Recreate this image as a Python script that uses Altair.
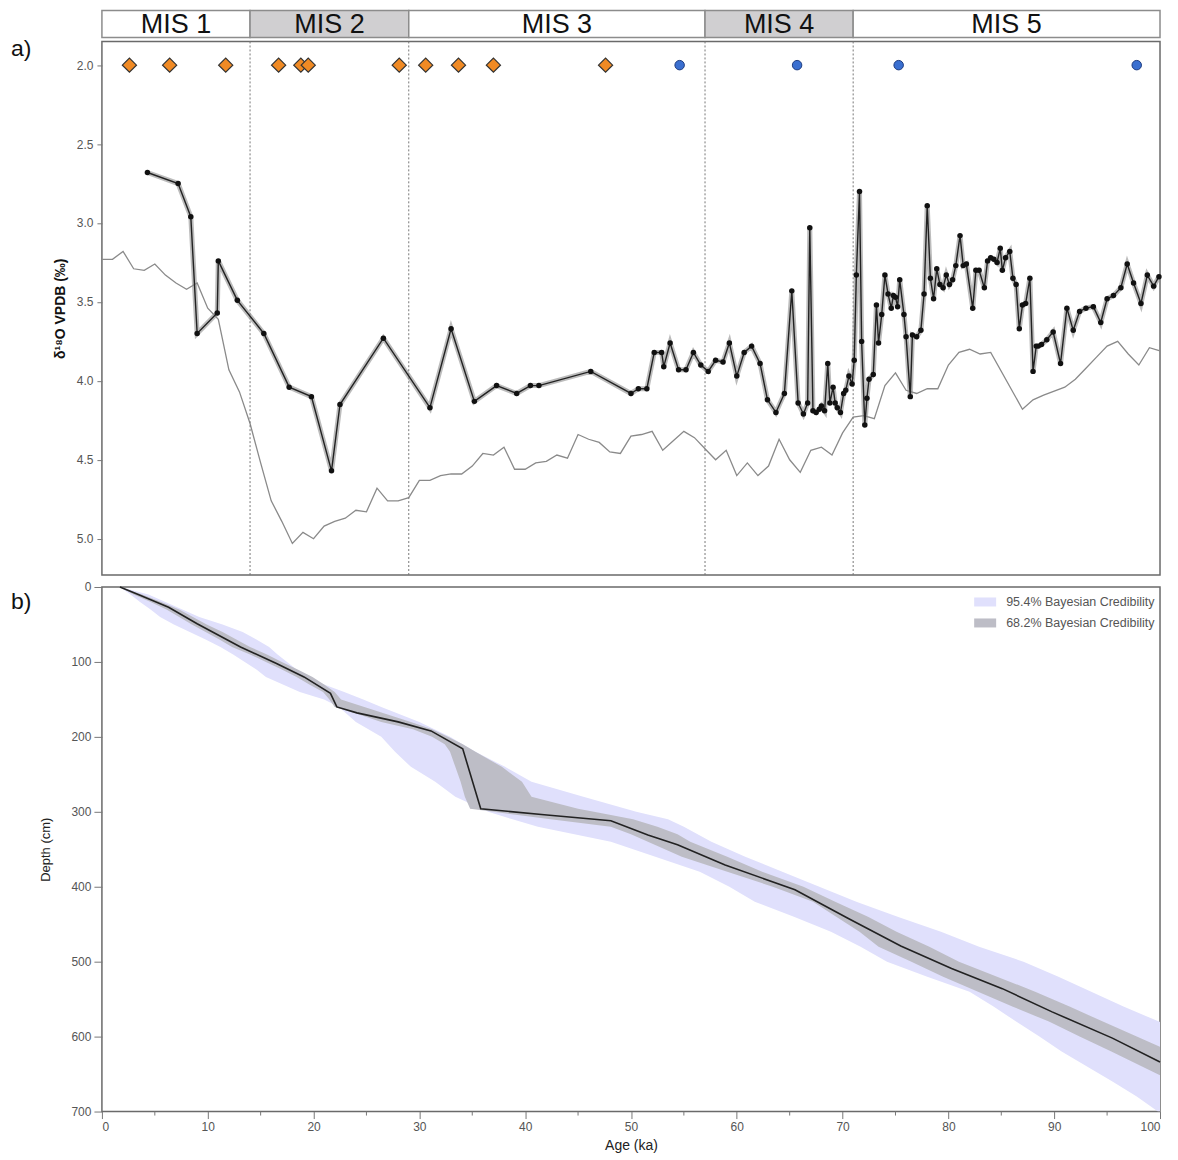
import altair as alt
import pandas as pd

# ---------------- data ----------------
mis_names = ["MIS 1", "MIS 2", "MIS 3", "MIS 4", "MIS 5"]
mis_start = [0, 14, 29, 57, 71]
mis_end = [14, 29, 57, 71, 100]
mis_fill = ["#ffffff", "#d0cfd1", "#ffffff", "#d0cfd1", "#ffffff"]
mis_bounds = [14, 29, 57, 71]

diamond_ages = [2.6, 6.4, 11.7, 16.7, 18.8, 19.5, 28.1, 30.6, 33.7, 37.0, 47.6]
circle_ages = [54.6, 65.7, 75.3, 97.8]
marker_level = 2.0

iso_age = [4.3, 7.2, 8.4, 9.0, 10.9, 11.0, 12.8, 15.3, 17.7, 19.8, 21.7, 22.5, 26.6, 31.0, 33.0, 35.2, 37.3, 39.2, 40.5, 41.3, 46.2, 50.0, 50.7, 51.5,
           52.2, 52.9, 53.1, 53.7, 54.5, 55.2, 55.9, 56.6, 57.3, 58.0, 58.7, 59.3, 60.0, 60.7, 61.4, 62.2, 62.9, 63.7, 64.5, 65.2, 65.8,
           66.3, 66.7, 66.9, 67.2, 67.5, 67.8, 68.0, 68.3, 68.6, 68.8, 69.1, 69.3, 69.5, 69.8, 70.1, 70.3, 70.6, 70.9, 71.1, 71.3, 71.6, 71.8, 72.1, 72.3, 72.5, 72.9,
           73.2, 73.4, 73.7, 74.0, 74.3, 74.6, 74.8, 75.0, 75.2, 75.4, 75.8, 76.0, 76.4, 76.6, 77.0, 77.4, 77.7, 78.0, 78.3, 78.6, 78.9, 79.2, 79.5, 79.8, 80.1, 80.4, 80.7, 81.1, 81.4, 81.7,
           82.3, 82.6, 82.9, 83.4, 83.7, 84.0, 84.3, 84.6, 84.9, 85.1, 85.4, 85.8, 86.1, 86.4, 86.7, 87.0, 87.3, 87.7, 88.0, 88.3, 88.5, 88.8, 89.3, 89.9,
           90.6, 91.2, 91.8, 92.4, 93.0, 93.7, 94.4, 95.0, 95.6, 96.3, 96.9, 97.5, 98.2, 98.8, 99.4, 99.9]
iso_val = [2.68, 2.75, 2.96, 3.70, 3.57, 3.24, 3.49, 3.70, 4.04, 4.10, 4.57, 4.15, 3.73, 4.17, 3.67, 4.13, 4.03, 4.08, 4.03, 4.03, 3.94, 4.08, 4.05, 4.05,
           3.82, 3.82, 3.91, 3.76, 3.93, 3.93, 3.82, 3.90, 3.94, 3.87, 3.88, 3.76, 3.97, 3.82, 3.78, 3.89, 4.12, 4.20, 4.08, 3.43, 4.14,
           4.21, 4.14, 3.03, 4.19, 4.20, 4.18, 4.16, 4.19, 3.89, 4.14, 4.04, 4.14, 4.17, 4.20, 4.08, 4.06, 3.97, 4.02, 3.87, 3.33, 2.80, 3.75, 4.28, 4.11, 3.99, 3.96,
           3.52, 3.76, 3.58, 3.33, 3.45, 3.54, 3.46, 3.47, 3.53, 3.36, 3.58, 3.72, 4.10, 3.71, 3.72, 3.68, 3.45, 2.89, 3.35, 3.48, 3.29, 3.39, 3.41, 3.33, 3.39, 3.36, 3.27, 3.08, 3.27, 3.26,
           3.54, 3.30, 3.30, 3.41, 3.24, 3.22, 3.23, 3.25, 3.16, 3.30, 3.22, 3.18, 3.35, 3.39, 3.67, 3.52, 3.51, 3.35, 3.94, 3.78, 3.78, 3.77, 3.74, 3.69,
           3.89, 3.54, 3.68, 3.56, 3.54, 3.53, 3.63, 3.48, 3.46, 3.41, 3.26, 3.38, 3.51, 3.33, 3.40, 3.34]

ref_age = [0, 1, 2, 3, 4, 5, 6, 7, 8, 9, 10, 11, 12, 13, 14, 15, 16, 17, 18, 19, 20,
           21, 22, 23, 24, 25, 26, 27, 28, 29, 30, 31, 32, 33, 34, 35, 36, 37, 38, 39, 40,
           41, 42, 43, 44, 45, 46, 47, 48, 49, 50, 51, 52, 53, 54, 55, 56, 57, 58, 59, 60,
           61, 62, 63, 64, 65, 66, 67, 68, 69, 70, 71, 72, 73, 74, 75, 76, 77, 78, 79, 80,
           81, 82, 83, 84, 87, 88, 89, 91, 92, 93, 94, 95, 96, 97, 98, 99, 100]
ref_val = [3.23, 3.23, 3.18, 3.29, 3.30, 3.26, 3.33, 3.38, 3.42, 3.38, 3.54, 3.61, 3.93, 4.07, 4.27, 4.52, 4.76, 4.89, 5.03, 4.96, 5.00,
           4.92, 4.89, 4.87, 4.82, 4.83, 4.68, 4.76, 4.76, 4.74, 4.63, 4.63, 4.60, 4.59, 4.59, 4.54, 4.46, 4.47, 4.42, 4.56, 4.56,
           4.52, 4.51, 4.47, 4.49, 4.34, 4.37, 4.39, 4.45, 4.46, 4.35, 4.34, 4.32, 4.44, 4.38, 4.32, 4.36, 4.43, 4.50, 4.44, 4.60,
           4.52, 4.60, 4.54, 4.37, 4.50, 4.58, 4.44, 4.42, 4.47, 4.33, 4.23, 4.22, 4.24, 4.03, 3.95, 4.06, 4.08, 4.05, 4.05, 3.90,
           3.82, 3.80, 3.83, 3.82, 4.18, 4.12, 4.09, 4.04, 3.99, 3.92, 3.85, 3.78, 3.75, 3.83, 3.90, 3.79, 3.81]

med_age = [1.7, 3.6, 6.3, 9.0, 13.1, 16.5, 19.1, 21.6, 22.2, 24.1, 28.0, 31.1, 34.1, 35.8, 41.8, 48.1, 51.6, 54.4, 58.9, 65.5, 70.5, 75.5, 80.3, 85.1, 89.8, 95.5, 100.0]
med_depth = [0, 11, 27, 49, 80, 102, 120, 142, 160, 168, 180, 192, 216, 296, 304, 312, 331, 344, 371, 404, 442, 479, 509, 536, 567, 602, 634]

depth95 = [0, 10, 20, 30, 40, 50, 60, 70, 80, 90, 100, 110, 120, 130, 140, 150, 160, 180, 200, 220, 240, 260, 280, 300, 310, 320, 340,
           360, 380, 400, 420, 440, 460, 480, 500, 520, 540, 560, 580, 600, 620, 640, 660, 680, 700]
lo95 = [1.7, 2.7, 3.6, 4.6, 5.5, 6.8, 8.3, 9.8, 11.2, 12.4, 13.5, 14.6, 15.5, 17.1, 18.7, 21.0, 22.4, 24.0, 26.4, 27.7, 29.2, 31.5, 33.4, 36.5, 38.8, 41.2, 48.1,
        52.3, 56.5, 59.3, 61.7, 65.4, 68.9, 71.7, 74.2, 78.0, 82.0, 84.3, 86.4, 88.6, 90.7, 93.1, 95.5, 97.8, 99.8]
hi95 = [1.7, 4.4, 6.0, 7.6, 9.2, 11.4, 13.3, 14.6, 15.8, 16.6, 17.5, 18.4, 19.3, 21.0, 22.9, 24.7, 26.4, 30.0, 32.9, 35.3, 38.1, 40.6, 45.5, 50.5, 53.5, 55.0, 57.6,
        60.8, 64.3, 67.8, 71.3, 75.2, 79.3, 82.9, 87.1, 90.4, 93.5, 96.6, 99.9, 103.0, 106.0, 109.5, 113.0, 116.5, 120.0]

depth68 = [0, 10, 20, 30, 40, 50, 60, 70, 80, 90, 100, 110, 120, 130, 140, 150, 160, 170, 180, 190, 200, 210, 220, 240, 260, 280, 296, 300,
           310, 320, 330, 340, 360, 380, 400, 420, 440, 460, 480, 500, 520, 540, 560, 580, 600, 620, 640, 660]
lo68 = [1.7, 3.0, 4.6, 6.1, 7.3, 8.5, 9.8, 11.1, 12.3, 14.0, 15.5, 17.0, 18.4, 19.6, 20.9, 21.5, 22.0, 24.3, 26.4, 29.4, 31.2, 32.4, 32.9, 33.4, 33.9, 34.3, 34.8, 37.0,
        42.4, 48.1, 50.0, 51.6, 54.8, 59.1, 63.4, 67.2, 69.4, 71.6, 73.4, 76.5, 79.5, 82.8, 86.1, 89.5, 92.4, 95.4, 98.3, 101.2]
hi68 = [1.7, 3.8, 5.6, 7.3, 8.6, 9.9, 11.4, 12.7, 14.0, 15.6, 17.0, 18.5, 19.9, 21.0, 22.0, 22.6, 24.8, 27.0, 29.2, 31.2, 32.7, 34.1, 35.3, 37.8, 39.7, 40.6, 45.0, 46.5,
        50.2, 52.5, 54.4, 55.6, 59.1, 62.4, 66.3, 69.3, 72.4, 75.1, 78.2, 81.0, 84.6, 88.2, 91.5, 94.6, 97.8, 101.0, 104.1, 107.3]

age_major = list(range(0, 101, 10))
age_minor = list(range(5, 100, 10))
depth_ticks = list(range(0, 701, 100))
iso_ticks = [2.0, 2.5, 3.0, 3.5, 4.0, 4.5, 5.0]

band_names = ["95.4% Bayesian Credibility", "68.2% Bayesian Credibility"]

# ---------------- frames ----------------
mis_df = pd.DataFrame({"name": mis_names, "start": mis_start, "end": mis_end, "fill": mis_fill})
bounds_df = pd.DataFrame({"age": mis_bounds})
dia_df = pd.DataFrame({"age": diamond_ages, "v": [marker_level] * len(diamond_ages)})
cir_df = pd.DataFrame({"age": circle_ages, "v": [marker_level] * len(circle_ages)})
iso_df = pd.DataFrame({"age": iso_age, "v": iso_val})
ref_df = pd.DataFrame({"age": ref_age, "v": ref_val})
med_df = pd.DataFrame({"age": med_age, "depth": med_depth})
b95_df = pd.DataFrame({"depth": depth95, "lo": lo95, "hi": hi95, "band": band_names[0]})
b68_df = pd.DataFrame({"depth": depth68, "lo": lo68, "hi": hi68, "band": band_names[1]})
minor_df = pd.DataFrame({"age": age_minor})

W = 1059
HA = 534
HB = 525
FONT = "Liberation Sans"
FRAME = alt.ViewBackground(stroke="#6a6a6a", strokeWidth=1.5)

xs = alt.Scale(domain=[0, 100], nice=False, zero=False)
ya = alt.Scale(domain=[1.85, 5.23], reverse=True, nice=False, zero=False)
yb = alt.Scale(domain=[0, 700], reverse=True, nice=False, zero=False)

xa_noaxis = alt.X("age:Q", scale=xs, axis=None)

# ---------------- panel a ----------------
mis_rect = alt.Chart(mis_df).mark_rect(stroke="#8c8c8c", strokeWidth=1.5).encode(
    x=alt.X("start:Q", scale=xs, axis=None), x2="end:Q",
    y=alt.value(-31), y2=alt.value(-4),
    fill=alt.Fill("fill:N", scale=None))
mis_text = alt.Chart(mis_df).transform_calculate(mid="(datum.start + datum.end) / 2").mark_text(
    fontSize=27, font=FONT, color="#111", baseline="middle").encode(
    x=alt.X("mid:Q", scale=xs, axis=None), y=alt.value(-16), text="name:N")

bound_rules = alt.Chart(bounds_df).mark_rule(strokeDash=[2, 2], color="#777", strokeWidth=1).encode(x=xa_noaxis)

ref_line = alt.Chart(ref_df).mark_line(color="#8a8a8a", strokeWidth=1.3).encode(
    x=xa_noaxis,
    y=alt.Y("v:Q", scale=ya, axis=alt.Axis(values=iso_ticks, format=".1f", title="δ¹⁸O VPDB (‰)",
                                            titleFontSize=14, titleFontWeight="bold", titleColor="#111",
                                            labelFontSize=12, labelColor="#555", tickColor="#777",
                                            tickSize=5, labelPadding=4, titlePadding=9, domain=False, grid=False)))
halo = alt.Chart(iso_df).mark_line(color="#8f8f8f", strokeWidth=5, opacity=0.6).encode(x=xa_noaxis, y=alt.Y("v:Q", scale=ya))
iso_line = alt.Chart(iso_df).mark_line(color="#222", strokeWidth=1.4).encode(x=xa_noaxis, y=alt.Y("v:Q", scale=ya))
iso_pts = alt.Chart(iso_df).mark_circle(size=30, color="#111", opacity=1).encode(x=xa_noaxis, y=alt.Y("v:Q", scale=ya))
dia = alt.Chart(dia_df).mark_point(shape="diamond", filled=True, fill="#f08a24", stroke="#333", strokeWidth=1.2,
                                   size=200, opacity=1).encode(x=xa_noaxis, y=alt.Y("v:Q", scale=ya))
cir = alt.Chart(cir_df).mark_point(shape="circle", filled=True, fill="#3a6fd0", stroke="#1f3c80", strokeWidth=1,
                                   size=90, opacity=1).encode(x=xa_noaxis, y=alt.Y("v:Q", scale=ya))
lab_a = alt.Chart(pd.DataFrame({"t": ["a)"]})).mark_text(fontSize=23, font=FONT, align="left", baseline="middle",
                                                          color="#111").encode(x=alt.value(-91), y=alt.value(8), text="t:N")

panel_a = alt.layer(ref_line, bound_rules, halo, iso_line, iso_pts, dia, cir, mis_rect, mis_text, lab_a).properties(
    width=W, height=HA, view=FRAME)

# ---------------- panel b ----------------
color_scale = alt.Scale(domain=band_names, range=["#e0e0fc", "#bdbdc6"])
legend = alt.Legend(orient="top-right", title=None, symbolType="M-1.1,-0.45H1.1V0.45H-1.1Z", symbolSize=400,
                    symbolStrokeWidth=0, symbolOpacity=1, labelFontSize=12.5, labelColor="#555", labelFont=FONT,
                    labelOffset=11, offset=5, rowPadding=4)

a95 = alt.Chart(b95_df).mark_area(orient="horizontal", clip=True, opacity=1).encode(
    y=alt.Y("depth:Q", scale=yb, axis=alt.Axis(values=depth_ticks, title="Depth (cm)", titleFontSize=13,
                                               titleFontWeight="normal", titleColor="#222", labelFontSize=12,
                                               labelColor="#555", tickColor="#777", tickSize=8, labelPadding=3,
                                               titlePadding=18, domain=False, grid=False)),
    x=alt.X("lo:Q", scale=xs, stack=None, axis=alt.Axis(values=age_major, title="Age (ka)", titleFontSize=14,
                                                        titleFontWeight="normal", titleColor="#222",
                                                        labelFontSize=12, labelColor="#555", tickColor="#777",
                                                        tickSize=7, labelPadding=3, titlePadding=6,
                                                        domain=False, grid=False)),
    x2="hi:Q",
    color=alt.Color("band:N", scale=color_scale, legend=legend))
a68 = alt.Chart(b68_df).mark_area(orient="horizontal", clip=True, opacity=1).encode(
    y=alt.Y("depth:Q", scale=yb), x=alt.X("lo:Q", scale=xs, stack=None), x2="hi:Q",
    color=alt.Color("band:N", scale=color_scale, legend=legend))
med_line = alt.Chart(med_df).mark_line(color="#222", strokeWidth=1.6).encode(
    x=alt.X("age:Q", scale=xs), y=alt.Y("depth:Q", scale=yb), order="depth:Q")
minor = alt.Chart(minor_df).mark_rule(color="#777").encode(x=alt.X("age:Q", scale=xs), y=alt.value(HB), y2=alt.value(HB + 4))
lab_b = alt.Chart(pd.DataFrame({"t": ["b)"]})).mark_text(fontSize=23, font=FONT, align="left", baseline="middle",
                                                          color="#111").encode(x=alt.value(-91), y=alt.value(15), text="t:N")

panel_b = alt.layer(a95, a68, med_line, minor, lab_b).properties(width=W, height=HB, view=FRAME)

chart = alt.vconcat(panel_a, panel_b, spacing=12, bounds="flush").resolve_legend(color="independent").properties(
    padding={"left": 2, "top": 0, "right": 0, "bottom": 0}
).configure_axis(labelFont=FONT, titleFont=FONT).configure(background="white")

chart.save("out.html", embed_options={"renderer": "svg", "actions": False})
